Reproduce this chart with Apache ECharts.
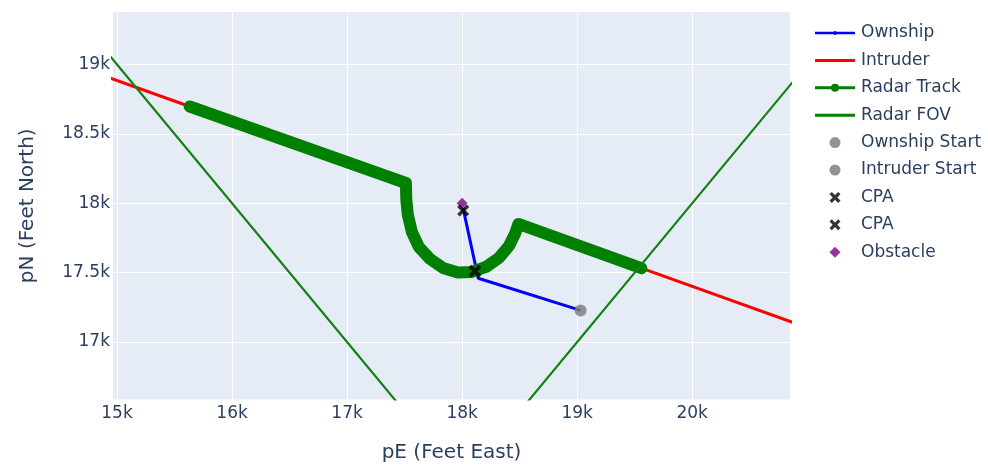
<!DOCTYPE html>
<html>
<head>
<meta charset="utf-8">
<script src="https://cdn.jsdelivr.net/npm/echarts@6/dist/echarts.min.js"></script>
<style>
  html, body { margin: 0; padding: 0; background: #ffffff; }
  #chart { width: 988px; height: 466px; }
</style>
</head>
<body>
<div id="chart"></div>
<script>
// Positions in feet: [pE (east), pN (north)]
const ownshipPath = [[19030, 17228], [18140, 17460], [18008, 17965]];

// Intruder trajectory, including its detour south of the straight track
const intruderPath = [
  [21500, 16956], [19558, 17532], [18489, 17851], [18459, 17779], [18407, 17692],
  [18320, 17606], [18207, 17541], [18085, 17505], [17963, 17501], [17833, 17534],
  [17720, 17599], [17624, 17685], [17563, 17793], [17528, 17916], [17515, 18024],
  [17511, 18146], [15632, 18697], [14500, 19033]
];

// Radar track of the intruder while it is being tracked
const radarTrack = [
  [15632, 18697], [17511, 18146], [17515, 18024], [17528, 17916], [17563, 17793],
  [17624, 17685], [17720, 17599], [17833, 17534], [17963, 17501], [18085, 17505],
  [18207, 17541], [18320, 17606], [18407, 17692], [18459, 17779], [18489, 17851],
  [19558, 17532]
];

// Edges of the radar field of view (apex at the sensor)
const radarFov = [[14500, 19500], [18000, 16000], [21500, 19500]];

const ownshipStart = [[19030, 17228]];
const intruderStart = [[21500, 16956]];
const cpaFirst = [[18111, 17510]];
const cpaSecond = [[18009, 17947]];
const obstacle = [[18000, 18000]];

const xTicks = [15000, 16000, 17000, 18000, 19000, 20000];
const yTicks = [17000, 17500, 18000, 18500, 19000];
const xRange = [14965, 20850];
const yRange = [16586, 19378];

const FONT = 'DejaVu Sans';
const TEXT = '#2a3f5f';

const X_PATH = 'path://M0,2.5 L2.5,0 L6,3.5 L9.5,0 L12,2.5 L8.5,6 L12,9.5 L9.5,12 L6,8.5 L2.5,12 L0,9.5 L3.5,6 Z';
const DIAMOND_PATH = 'path://M5,0 L10,5 L5,10 L0,5 Z';
const LINE_ICON = 'path://M0,0 H40 V3 H0 Z';
const LINE_DOT_ICON = 'path://M0,4.5 H40 V7.5 H0 Z M16,6 A4,4 0 1,1 24,6 A4,4 0 1,1 16,6 Z';
const LINE_SMALL_DOT_ICON = 'path://M0,4.75 H40 V7.25 H0 Z M18,6 A2,2 0 1,1 22,6 A2,2 0 1,1 18,6 Z';

const kFormat = v => (v / 1000) + 'k';

const chart = echarts.init(document.getElementById('chart'), null, { renderer: 'canvas' });

chart.setOption({
  animation: false,
  backgroundColor: '#ffffff',
  textStyle: { fontFamily: FONT, color: TEXT },
  grid: {
    left: 113, right: 198, top: 12, bottom: 66.5,
    outerBoundsMode: 'none',
    containLabel: false,
    show: true, backgroundColor: '#e5ecf6', borderWidth: 0
  },
  xAxis: {
    type: 'value',
    min: xRange[0], max: xRange[1],
    name: 'pE (Feet East)',
    nameLocation: 'middle',
    nameGap: 43,
    nameTextStyle: { fontFamily: FONT, fontSize: 20, color: TEXT },
    axisLine: { show: false },
    axisTick: { show: false, customValues: xTicks },
    axisLabel: { customValues: xTicks, formatter: kFormat, fontFamily: FONT, fontSize: 17, color: TEXT, margin: 6 },
    splitLine: { show: true, lineStyle: { color: '#ffffff', width: 1 } }
  },
  yAxis: {
    type: 'value',
    min: yRange[0], max: yRange[1],
    name: 'pN (Feet North)',
    nameLocation: 'middle',
    nameGap: 75,
    nameTextStyle: { fontFamily: FONT, fontSize: 20, color: TEXT },
    axisLine: { show: false },
    axisTick: { show: false, customValues: yTicks },
    axisLabel: { customValues: yTicks, formatter: kFormat, fontFamily: FONT, fontSize: 17, color: TEXT, margin: 3 },
    splitLine: { show: true, lineStyle: { color: '#ffffff', width: 1 } }
  },
  legend: {
    orient: 'vertical',
    left: 810, top: 19.5,
    itemWidth: 40, itemHeight: 11, itemGap: 10.4,
    itemStyle: { borderWidth: 0 },
    textStyle: { fontFamily: FONT, fontSize: 17, color: TEXT, padding: [0, 0, 0, 1] },
    data: [
      { name: 'Ownship', icon: LINE_SMALL_DOT_ICON },
      { name: 'Intruder', icon: LINE_ICON },
      { name: 'Radar Track', icon: LINE_DOT_ICON },
      { name: 'Radar FOV', icon: LINE_ICON },
      { name: 'Ownship Start', icon: 'circle' },
      { name: 'Intruder Start', icon: 'circle' },
      { name: 'CPA', icon: X_PATH },
      { name: 'CPA ', icon: X_PATH },
      { name: 'Obstacle', icon: DIAMOND_PATH }
    ]
  },
  series: [
    {
      name: 'Ownship', type: 'line', data: ownshipPath, symbol: 'none',
      color: '#0000ff', lineStyle: { color: '#0000ff', width: 3 }, z: 2
    },
    {
      name: 'Intruder', type: 'line', data: intruderPath, symbol: 'none',
      color: '#ff0000', lineStyle: { color: '#ff0000', width: 3 }, z: 2
    },
    {
      name: 'Radar Track', type: 'line', data: radarTrack, symbol: 'none',
      color: '#008000', lineStyle: { color: '#008000', width: 12, cap: 'round', join: 'round' }, z: 3
    },
    {
      name: 'Radar FOV', type: 'line', data: radarFov, symbol: 'none',
      color: '#008000', lineStyle: { color: '#118211', width: 2.2 }, z: 3
    },
    {
      name: 'Ownship Start', type: 'scatter', data: ownshipStart, symbol: 'circle', symbolSize: 12,
      color: '#808080', itemStyle: { color: '#808080', opacity: 0.85 }, z: 4
    },
    {
      name: 'Intruder Start', type: 'scatter', data: intruderStart, symbol: 'circle', symbolSize: 12,
      color: '#808080', itemStyle: { color: '#808080', opacity: 0.85 }, z: 4
    },
    {
      name: 'CPA', type: 'scatter', data: cpaFirst, symbol: X_PATH, symbolSize: 13,
      color: '#000000', itemStyle: { color: '#000000' }, z: 5
    },
    {
      name: 'CPA ', type: 'scatter', data: cpaSecond, symbol: X_PATH, symbolSize: 12,
      color: '#000000', itemStyle: { color: '#000000' }, z: 5
    },
    {
      name: 'Obstacle', type: 'scatter', data: obstacle, symbol: DIAMOND_PATH, symbolSize: 11,
      color: '#800080', itemStyle: { color: '#800080' }, z: 4
    }
  ]
});
</script>
</body>
</html>
